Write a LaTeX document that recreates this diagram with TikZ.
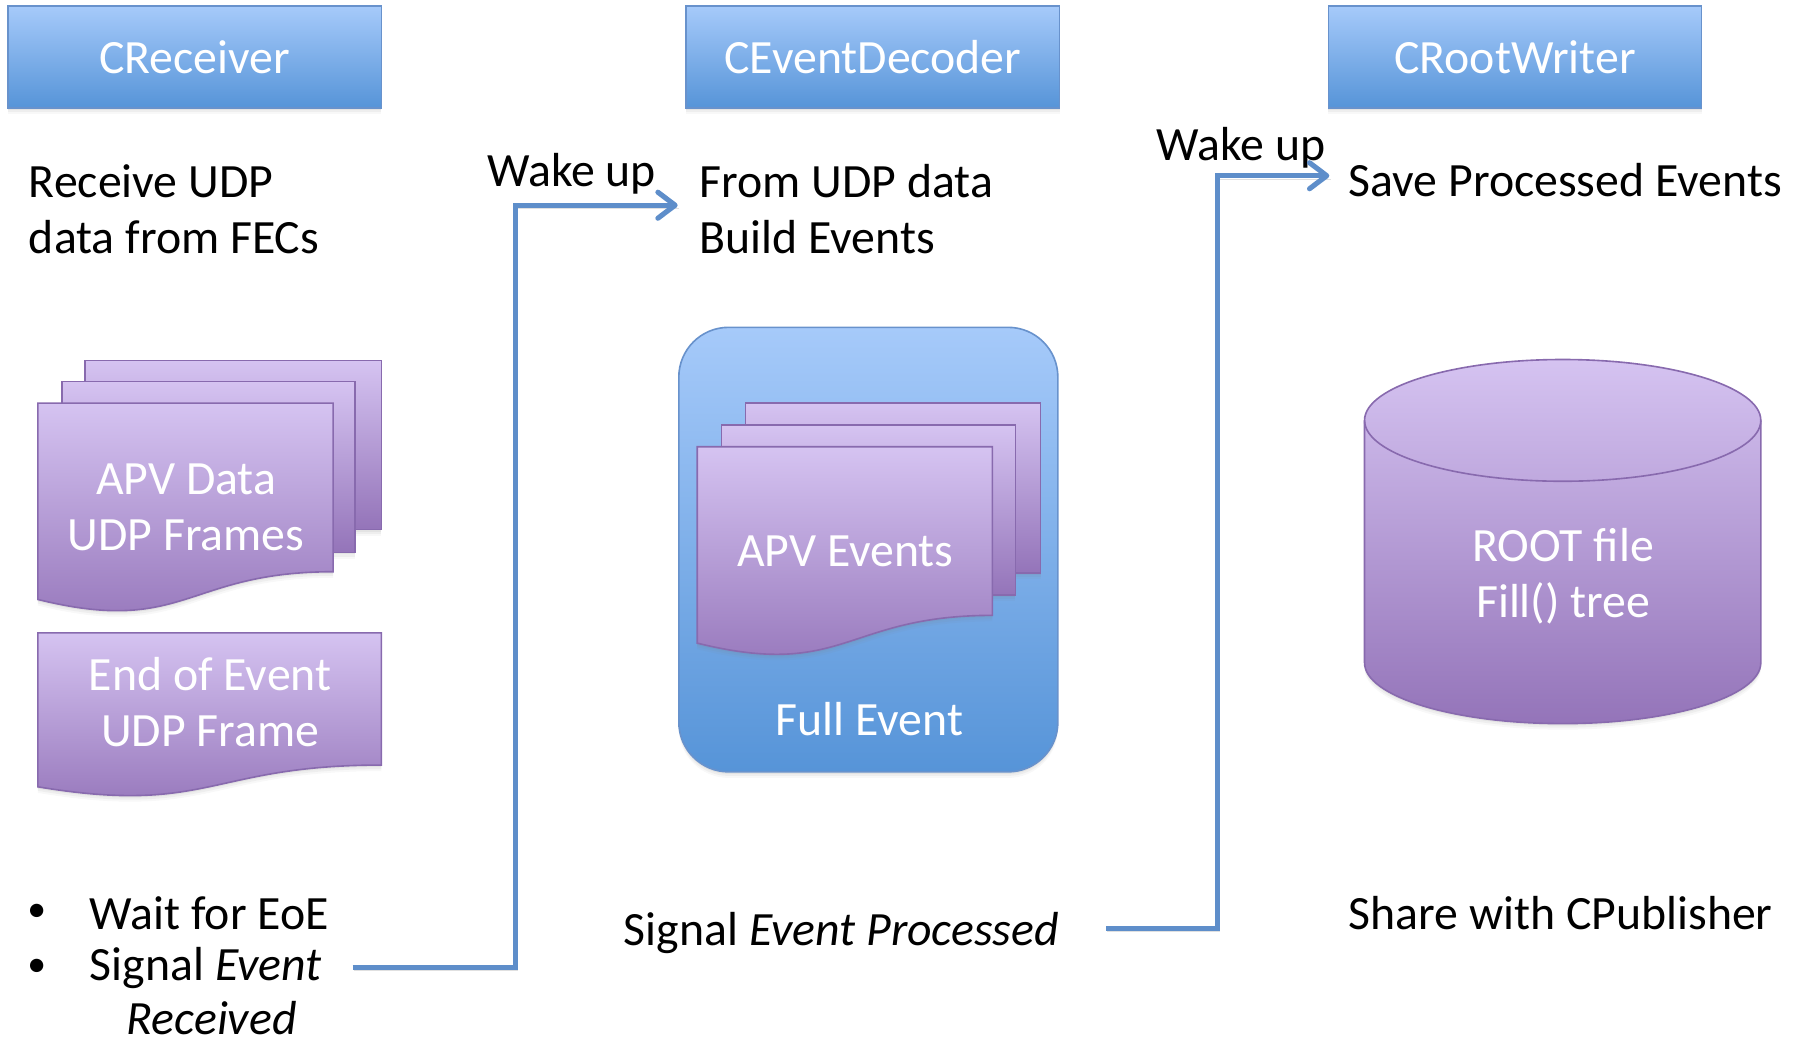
\documentclass[tikz,border=0pt]{standalone}
\usepackage{fontspec}
\setmainfont{Carlito}
\usetikzlibrary{arrows.meta,shadows}
\definecolor{bluetop}{RGB}{166,202,250}
\definecolor{bluebot}{RGB}{86,148,216}
\definecolor{blueedge}{RGB}{104,146,204}
\definecolor{purtop}{RGB}{213,195,241}
\definecolor{purbot}{RGB}{148,116,185}
\definecolor{puredge}{RGB}{136,106,174}
\definecolor{arrowblue}{RGB}{94,142,202}
\tikzset{
  big/.style={font=\fontsize{35.5}{41.8}\selectfont, inner sep=0pt},
  txt/.style={big, text=black},
  wtxt/.style={big, text=white, align=center},
  softshadow/.style={drop shadow={shadow xshift=0pt, shadow yshift=-1.5pt, opacity=0.10},
                     drop shadow={shadow xshift=0pt, shadow yshift=-3pt, opacity=0.08},
                     drop shadow={shadow xshift=0pt, shadow yshift=-4.5pt, opacity=0.06}},
  bluefill/.style={top color=bluetop, bottom color=bluebot, draw=blueedge, line width=1.2pt},
  purfill/.style={top color=purtop, bottom color=purbot, draw=puredge, line width=1.2pt},
  hdr/.style={bluefill, softshadow, minimum width=9.75cm, minimum height=2.67cm, wtxt},
  conn/.style={draw=arrowblue, line width=3.8pt, line join=miter,
     -{Straight Barb[length=4.5mm,width=6.8mm,line cap=round,line join=round]},
     preaction={draw=black, opacity=0.12, -, transform canvas={xshift=1pt,yshift=-2.5pt}}},
}
\newcommand\docshape[5][]{\path[#1] (#2,#3) -- ({#2+#4},#3) -- ({#2+#4},{#3+0.802*#5})
  .. controls ({#2+0.5*#4},{#3+0.802*#5}) and ({#2+0.5*#4},{#3+1.1075*#5}) .. (#2,{#3+0.934*#5}) -- cycle;}
\begin{document}
\begin{tikzpicture}[x=0.03cm, y=-0.03cm]
\useasboundingbox (0,0) rectangle (1568,909);

% headers
\node[hdr] (crec) at (169.5,49.5) {\raisebox{-0.08cm}{CReceiver}};
\node[hdr] (cdec) at (760,49.5) {\raisebox{-0.08cm}{CEventDecoder}};
\node[hdr] (croot) at (1319,49.5) {\raisebox{-0.08cm}{CRootWriter}};

% column texts
\node[txt, align=left, anchor=west] (recv) at (25,182) {Receive UDP\\data from FECs};
\node[txt, align=left, anchor=west] (fromudp) at (609,182) {From UDP data\\Build Events};
\node[txt, anchor=west] (save) at (1174,157) {Save Processed Events};
\node[txt, anchor=west] (wake1) at (424,151) {Wake up};
\node[txt, anchor=west] (wake2) at (1007,129) {Wake up};

% left stack of frames
\path[purfill, softshadow] (74,314) rectangle (332,461);
\path[purfill, softshadow] (54,332) rectangle (309,481);
\docshape[purfill, softshadow]{33}{351}{257}{183}
\node[wtxt] (apvdata) at (162,441.5) {APV Data\\UDP Frames};
\docshape[purfill, softshadow]{33}{551}{299}{143.5}
\node[wtxt] (eoe) at (183,611.5) {End of Event\\UDP Frame};

% full event container
\node[bluefill, softshadow, rounded corners=1.3cm, minimum width=9.9cm, minimum height=11.61cm] (fullbox) at (756,478.5) {};
\path[purfill, softshadow] (649,351) rectangle (906,499);
\path[purfill, softshadow] (628,370) rectangle (884,518);
\docshape[purfill, softshadow]{607}{389}{257}{183}
\node[wtxt] (apvev) at (736,480) {APV Events};
\node[wtxt] (fullev) at (757,626) {Full Event};

% cylinder
\path[purfill, softshadow] (1188,366) arc[start angle=180, end angle=360, x radius=172.5, y radius=53]
  -- (1533,577) arc[start angle=0, end angle=180, x radius=172.5, y radius=53] -- cycle;
\draw[puredge, line width=1.2pt] (1188,366) arc[start angle=180, end angle=0, x radius=172.5, y radius=53];
\node[wtxt] (rootf) at (1361,502) {ROOT file\\Fill() tree};

% bottom texts
\node[txt, font=\fontsize{28}{30}\selectfont] (b1) at (32,795) {\textbullet};
\node[txt, font=\fontsize{28}{30}\selectfont] (b2) at (32,843) {\textbullet};
\node[txt, anchor=west] (wait) at (78,795) {Wait for EoE};
\node[txt, anchor=west] (sigA) at (78,843) {Signal \textit{Event}};
\node[txt, anchor=west] (recd) at (110,886) {\textit{Received}};
\node[txt, anchor=west] (sigproc) at (543,812) {Signal \textit{Event Processed}};
\node[txt, anchor=west] (share) at (1174,795) {Share with CPublisher};

% connectors
\coordinate (a1s) at (307,842);
\coordinate (bend1) at (449,500);
\coordinate (a2s) at (963,808);
\coordinate (bend2) at (1060,500);
\draw[conn] (a1s) -| (bend1) |- ([xshift=-0.57cm, yshift=0.1cm]fromudp.west);
\draw[conn] (a2s) -| (bend2) |- ([xshift=-0.5cm, yshift=0.12cm]save.west);
\end{tikzpicture}
\end{document}
